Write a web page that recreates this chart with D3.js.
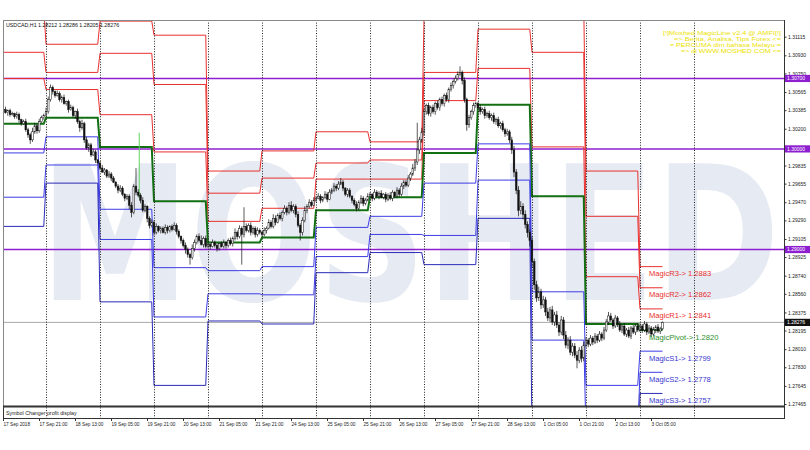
<!DOCTYPE html>
<html><head><meta charset="utf-8">
<script src="https://cdn.jsdelivr.net/npm/d3@7"></script>
<style>body{margin:0;background:#fff}svg{display:block}</style>
</head><body>
<svg id="c" width="810" height="450"></svg>
<script>
// ---------------- DATA ----------------
const symbolHeader = "USDCAD,H1  1.28212 1.28286 1.28205 1.28276";
const currentPrice = 1.28276;
const roundLevels = [1.30700, 1.30000, 1.29000];
const yTicks = [1.31115,1.30930,1.30750,1.30565,1.30385,1.30200,1.29835,1.29655,1.29470,1.29290,1.29105,1.28925,1.28740,1.28560,1.28375,1.28195,1.28010,1.27830,1.27645,1.27465];
const xLabelText = ["17 Sep 2018","17 Sep 21:00","18 Sep 13:00","19 Sep 05:00","19 Sep 21:00","20 Sep 13:00","21 Sep 05:00","21 Sep 21:00","24 Sep 13:00","25 Sep 05:00","25 Sep 21:00","26 Sep 13:00","27 Sep 05:00","27 Sep 21:00","28 Sep 13:00","1 Oct 05:00","1 Oct 21:00","2 Oct 13:00","3 Oct 05:00"];
const xLabelBar = [-19,-3,13,29,45,61,77,93,109,125,141,157,173,189,205,221,237,253,269];
// trading days (H1 bar index, 0 = 18 Sep 00:00)
const days = ["17 Sep","18 Sep","19 Sep","20 Sep","21 Sep","24 Sep","25 Sep","26 Sep","27 Sep","28 Sep","1 Oct","2 Oct","3 Oct"];
const dayStart = [-19,0,24,48,72,96,120,144,168,192,216,240,264];
const dayEnd   = [-1,23,47,71,95,119,143,167,191,215,239,263,274];
const separatorBars = [0,24,48,72,96,120,144,168,192,216,240,264,288];
// daily MagicLine levels
const r3 = [1.3141,1.3104,1.3127,1.3113,1.2978,1.2998,1.3017,1.3007,1.3129,1.3154,1.3144,1.2978,1.2883];
const r2 = [1.3096,1.3076,1.3095,1.3064,1.2956,1.2971,1.2986,1.2989,1.3076,1.3119,1.3096,1.2933,1.2862];
const r1 = [1.3070,1.3059,1.3034,1.2997,1.2928,1.2941,1.2970,1.2970,1.3048,1.3080,1.3002,1.2873,1.2841];
const pivot = [1.3025,1.3031,1.3002,1.2948,1.2907,1.2912,1.2939,1.2952,1.2996,1.3044,1.2953,1.2826,1.2820];
const s1 = [1.2996,1.3012,1.2940,1.2882,1.2879,1.2883,1.2922,1.2933,1.2966,1.3005,1.2858,1.2765,1.2799];
const s2 = [1.2952,1.2984,1.2910,1.2833,1.2856,1.2855,1.2893,1.2915,1.2914,1.2969,1.2810,1.2719,1.2778];
const s3 = [1.2923,1.2966,1.2848,1.2765,1.2829,1.2826,1.2877,1.2897,1.2885,1.2931,1.2715,1.2660,1.2757];
// H1 candles: first open, closes, wick sizes (pips)
const firstOpen = 1.3036;
const closes = [
 1.3039,1.3036,1.3038,1.3034,1.3035,1.3032,1.3034,1.3029,1.3025,1.3027,1.3019,1.3014,1.3009,1.3017,1.3023,1.3018,1.3027,1.3031,1.3033,
 1.3037,1.3049,1.3061,1.3057,1.3053,1.3055,1.3049,1.3051,1.3045,1.3047,1.3039,1.3041,1.3033,1.3037,1.3027,1.3021,1.3025,1.3009,1.3001,1.3004,1.2994,1.2997,1.2989,1.2986,
 1.2981,1.2977,1.2979,1.2973,1.2975,1.2971,1.2967,1.2963,1.2959,1.2961,1.2955,1.2951,1.2953,1.2944,1.2937,1.2963,1.2957,1.2954,1.2949,1.2939,1.2943,1.2931,1.2924,1.2927,
 1.2917,1.2923,1.2919,1.2921,1.2917,1.2922,1.2919,1.2923,1.2920,1.2924,1.2918,1.2913,1.2909,1.2904,1.2900,1.2895,1.2892,1.2901,1.2907,1.2913,1.2909,1.2905,1.2911,1.2903,
 1.2905,1.2903,1.2907,1.2904,1.2901,1.2906,1.2903,1.2907,1.2904,1.2909,1.2906,1.2911,1.2917,1.2913,1.2921,1.2915,1.2923,1.2919,1.2924,1.2917,1.2921,1.2915,1.2919,1.2917,
 1.2915,1.2919,1.2921,1.2927,1.2923,1.2931,1.2927,1.2934,1.2931,1.2937,1.2941,1.2937,1.2944,1.2939,1.2943,1.2935,1.2924,1.2917,1.2929,1.2939,1.2943,1.2947,1.2944,1.2949,
 1.2951,1.2953,1.2949,1.2952,1.2955,1.2950,1.2957,1.2959,1.2963,1.2961,1.2965,1.2967,1.2961,1.2955,1.2959,1.2953,1.2949,1.2945,1.2941,1.2947,1.2951,1.2946,1.2949,1.2953,
 1.2955,1.2951,1.2957,1.2953,1.2956,1.2952,1.2955,1.2950,1.2954,1.2951,1.2957,1.2953,1.2959,1.2955,1.2963,1.2967,1.2964,1.2971,1.2975,1.2981,1.2987,1.2999,1.3009,1.3017,
 1.3037,1.3043,1.3035,1.3041,1.3037,1.3045,1.3041,1.3049,1.3045,1.3053,1.3049,1.3059,1.3063,1.3067,1.3070,1.3074,1.3076,1.3068,1.3049,1.3024,1.3031,1.3037,1.3043,1.3045,
 1.3041,1.3037,1.3039,1.3033,1.3035,1.3031,1.3033,1.3027,1.3029,1.3023,1.3025,1.3019,1.3015,1.3017,1.3009,1.2999,1.2977,1.2959,1.2939,1.2943,1.2935,1.2925,1.2917,1.2909,
 1.2888,1.2865,1.2852,1.2858,1.2845,1.2850,1.2838,1.2832,1.2840,1.2828,1.2835,1.2825,1.2818,1.2830,1.2815,1.2805,1.2810,1.2798,1.2804,1.2795,1.2790,1.2800,1.2792,1.2805,
 1.2810,1.2806,1.2812,1.2808,1.2814,1.2810,1.2816,1.2812,1.2820,1.2828,1.2834,1.2830,1.2824,1.2832,1.2826,1.2820,1.2824,1.2816,1.2820,1.2814,1.2822,1.2818,1.2824,1.2820,
 1.2824,1.2820,1.2826,1.2818,1.2822,1.2816,1.2820,1.2823,1.2819,1.28212,1.28276
];
const wickUp = [
 2,3,1,2,2,1,3,2,1,2,3,2,2,4,3,2,3,2,2,
 4,3,3,2,1,3,2,2,3,1,2,3,2,1,3,2,4,2,3,2,2,3,2,1,
 2,3,2,1,3,2,2,1,2,3,2,1,2,2,3,2,18,3,2,3,2,1,2,3,
 2,3,1,2,2,3,2,1,2,3,2,2,1,2,3,2,2,4,3,2,3,5,2,3,
 2,1,3,2,2,1,2,3,1,2,3,2,4,2,3,2,19,3,2,3,2,2,3,2,
 2,3,2,3,2,4,3,2,3,2,3,2,3,4,2,2,3,2,3,4,2,3,2,3,
 2,3,2,1,3,2,3,2,3,2,3,4,2,1,2,2,1,2,3,2,3,2,2,3,
 2,1,3,2,2,3,1,2,2,3,2,1,3,2,3,2,2,3,2,4,3,27,3,4,
 3,2,3,2,3,2,3,2,3,2,3,2,3,2,3,3,6,2,3,2,3,2,3,2,
 2,3,2,3,2,3,2,3,2,3,2,3,2,3,2,3,4,3,4,5,3,4,3,3,
 4,3,4,5,3,4,3,4,3,4,3,4,3,4,3,4,3,4,3,3,4,3,4,3,
 3,2,3,2,3,2,3,2,3,3,4,3,2,3,2,3,2,3,2,3,2,3,2,3,
 3,2,3,2,3,2,3,2,3,2,1
];
const wickDown = [
 2,1,3,2,1,2,2,3,2,1,2,3,4,2,2,3,2,1,2,
 1,2,2,3,2,1,2,3,1,2,3,1,2,3,2,4,2,3,2,4,2,1,3,2,
 2,1,3,2,2,3,1,2,3,2,2,3,2,4,5,2,3,2,3,2,2,4,3,2,
 3,2,2,3,1,2,3,2,2,1,3,2,3,2,4,3,7,2,3,2,2,1,3,2,
 2,3,1,2,3,2,1,2,3,2,2,3,2,3,2,30,3,2,2,3,2,3,2,2,
 2,2,3,1,2,2,3,1,2,3,2,3,2,2,3,3,2,8,3,2,3,2,2,1,
 2,1,3,2,2,3,1,2,2,3,2,1,3,2,3,2,3,2,3,2,2,3,2,1,
 1,3,2,2,3,1,2,3,2,2,3,2,2,3,2,3,2,2,3,2,3,3,4,3,
 4,3,2,3,2,3,2,3,2,3,2,3,2,3,2,2,2,4,3,6,3,2,3,2,
 2,3,2,3,2,2,3,2,3,2,3,2,3,2,3,4,5,4,6,4,5,4,5,6,
 6,5,4,3,4,3,4,3,4,3,4,3,4,3,4,3,4,3,4,3,8,3,4,3,
 2,3,2,3,2,3,2,3,2,2,3,2,3,2,3,2,3,2,3,2,3,2,3,2,
 2,3,2,3,2,3,2,3,2,3,1
];
const spikeBar = [41], spikeHigh = [1.3016], spikeLow = [1.2951];
const infoLines = ["[!]Moshed MagicLine v2.4 @ AMFI[!]","=> Berita, Analisa, Tips Forex <=","= PERCUMA dlm bahasa Melayu =","=> di WWW.MOSHED.COM <="];

// ---------------- CHART ----------------
const svg = d3.select("#c");
const P = {l:3, r:784, t:20, b:406, sb:418};
const x = d3.scaleLinear().domain([-19, 288]).range([3.25, 694]);
const y = d3.scaleLinear().domain([1.27465, 1.31115]).range([404, 36.7]);
const pip = 0.0001;
const FONT = "'Liberation Sans', Arial, sans-serif";

svg.append("defs").append("clipPath").attr("id","clip")
  .append("rect").attr("x",P.l).attr("y",P.t).attr("width",P.r-P.l).attr("height",P.b-P.t);

// watermark
svg.append("text").attr("x",40).attr("y",300).text("MOSHED")
  .attr("font-family","'DejaVu Sans', sans-serif").attr("font-weight","bold")
  .attr("font-size",188).attr("textLength",740).attr("lengthAdjust","spacingAndGlyphs")
  .attr("fill","#e6eaf2");

const g = svg.append("g").attr("clip-path","url(#clip)");

// period separators
svg.append("g").selectAll("line").data(separatorBars).join("line")
  .attr("x1",d=>Math.round(x(d))+0.5).attr("x2",d=>Math.round(x(d))+0.5)
  .attr("y1",P.t).attr("y2",P.sb)
  .attr("stroke","#222").attr("stroke-width",1).attr("stroke-dasharray","1,1.6");

// round-number lines
g.selectAll(".rl").data(roundLevels).join("line")
  .attr("x1",P.l).attr("x2",P.r).attr("y1",d=>y(d)).attr("y2",d=>y(d))
  .attr("stroke","#8e1fd0").attr("stroke-width",1.5);

// current price line
g.append("line").attr("x1",P.l).attr("x2",P.r).attr("y1",y(currentPrice)).attr("y2",y(currentPrice))
  .attr("stroke","#a8a8a8").attr("stroke-width",1);

// pivot lines
const levels = [
  {name:"MagicR3",v:r3,c:"#e8302e",w:1,tc:"#e8302e"},
  {name:"MagicR2",v:r2,c:"#e8302e",w:1,tc:"#e8302e"},
  {name:"MagicR1",v:r1,c:"#e8302e",w:1,tc:"#e8302e"},
  {name:"MagicPivot",v:pivot,c:"#126f12",w:2,tc:"#2b8f2b"},
  {name:"MagicS1",v:s1,c:"#3c3ce6",w:1,tc:"#3838d0"},
  {name:"MagicS2",v:s2,c:"#3c3ce6",w:1,tc:"#3838d0"},
  {name:"MagicS3",v:s3,c:"#2a2ab8",w:1,tc:"#3838d0"}
];
const line = d3.line().x(p=>x(p[0])).y(p=>y(p[1]));
levels.forEach(L=>{
  const pts=[];
  dayStart.forEach((s,d)=>{pts.push([s,L.v[d]]);pts.push([dayEnd[d],L.v[d]]);});
  g.append("path").attr("d",line(pts)).attr("fill","none").attr("stroke",L.c).attr("stroke-width",L.w);
});

// labels for the last day
const last = days.length-1;
levels.forEach(L=>{
  svg.append("text").attr("x",649).attr("y",y(L.v[last])+9.5)
    .text(L.name+"-> "+L.v[last].toFixed(4))
    .attr("font-family",FONT).attr("font-size",7.6).attr("fill",L.tc);
});

// green spike
g.selectAll(".sp").data(spikeBar).join("line")
  .attr("x1",d=>x(d)+1).attr("x2",d=>x(d)+1)
  .attr("y1",(d,k)=>y(spikeHigh[k])).attr("y2",(d,k)=>y(spikeLow[k]))
  .attr("stroke","#5fd35f").attr("stroke-width",1);

// candles
const bars = closes.map((c,k)=>{
  const o = k===0 ? firstOpen : closes[k-1];
  return {i:k-19,o,c,hi:Math.max(o,c)+wickUp[k]*pip,lo:Math.min(o,c)-wickDown[k]*pip};
});
const cg = g.append("g");
cg.selectAll(".wk").data(bars).join("line")
  .attr("x1",d=>x(d.i)).attr("x2",d=>x(d.i)).attr("y1",d=>y(d.hi)).attr("y2",d=>y(d.lo))
  .attr("stroke","#111").attr("stroke-width",0.7);
cg.selectAll(".bd").data(bars).join("rect")
  .attr("x",d=>x(d.i)-0.8).attr("width",1.6)
  .attr("y",d=>y(Math.max(d.o,d.c))).attr("height",d=>Math.max(0.6,Math.abs(y(d.o)-y(d.c))))
  .attr("fill",d=>d.c>=d.o?"#fff":"#111").attr("stroke","#111").attr("stroke-width",0.5);

// header + info text
svg.append("text").attr("x",6).attr("y",27).text(symbolHeader)
  .attr("font-family",FONT).attr("font-size",5.3).attr("fill","#111");
const infoY=[34.5,40.5,46.5,53];
const infoW=[118,107,111,100];
infoLines.forEach((t,k)=>{
  svg.append("text").attr("x",781).attr("y",infoY[k]).attr("text-anchor","end").text(t)
    .attr("font-family",FONT).attr("font-size",6.2).attr("fill","#ece200")
    .attr("textLength",infoW[k]).attr("lengthAdjust","spacingAndGlyphs");
});

// frames
svg.append("rect").attr("x",P.l+0.5).attr("y",P.t+0.5).attr("width",P.r-P.l).attr("height",P.b-P.t)
  .attr("fill","none").attr("stroke","#888").attr("stroke-width",1);
svg.append("line").attr("x1",P.l).attr("x2",P.r+1).attr("y1",P.b+0.5).attr("y2",P.b+0.5).attr("stroke","#333").attr("stroke-width",2);
svg.append("line").attr("x1",P.l).attr("x2",P.r+1).attr("y1",P.sb+0.5).attr("y2",P.sb+0.5).attr("stroke","#333").attr("stroke-width",1.2);
svg.append("line").attr("x1",P.l+0.5).attr("x2",P.l+0.5).attr("y1",P.b).attr("y2",P.sb).attr("stroke","#333");
svg.append("line").attr("x1",P.r+0.5).attr("x2",P.r+0.5).attr("y1",P.t).attr("y2",P.sb).attr("stroke","#333");
svg.append("text").attr("x",6).attr("y",415).text("Symbol Changer profit display")
  .attr("font-family",FONT).attr("font-size",5.3).attr("fill","#222");

// right axis
const ay = svg.append("g").attr("transform",`translate(${P.r+0.5},0)`)
  .call(d3.axisRight(y).tickValues(yTicks).tickFormat(d3.format(".5f")).tickSize(2).tickPadding(1.5));
ay.select(".domain").remove();
ay.selectAll("text").attr("font-family",FONT).attr("font-size",5).attr("fill","#222");
ay.selectAll("line").attr("stroke","#333");

// level boxes on axis
const boxes = roundLevels.map(v=>({v,fill:"#8e1fd0"})).concat([{v:currentPrice,fill:"#111"}]);
boxes.forEach(b=>{
  svg.append("rect").attr("x",P.r+1).attr("y",y(b.v)-3.6).attr("width",25).attr("height",7.2).attr("fill",b.fill);
  svg.append("text").attr("x",P.r+3).attr("y",y(b.v)+1.8).text(b.v.toFixed(5))
    .attr("font-family",FONT).attr("font-size",5).attr("fill","#fff");
});

// bottom axis
const ax = svg.append("g");
xLabelBar.forEach((b,k)=>{
  const xx = Math.round(x(b))+0.5;
  ax.append("line").attr("x1",xx).attr("x2",xx).attr("y1",P.sb).attr("y2",P.sb+3).attr("stroke","#333");
  ax.append("text").attr("x",xx).attr("y",426).text(xLabelText[k])
    .attr("font-family",FONT).attr("font-size",4.7).attr("fill","#222");
});
</script></body></html>
